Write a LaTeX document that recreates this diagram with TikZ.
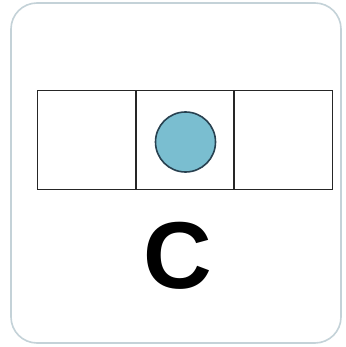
\documentclass[tikz,border=0pt]{standalone}
\usepackage{fontspec}
\setmainfont{Liberation Sans}
\definecolor{frame}{RGB}{196,210,216}
\definecolor{dotfill}{RGB}{122,190,208}
\definecolor{dotline}{RGB}{40,65,80}
\tikzset{
  cell/.style={draw=black!85, line width=1.8pt, minimum width=98pt, minimum height=99pt, inner sep=0pt, outer sep=0pt},
}
\begin{document}
\begin{tikzpicture}[x=1pt,y=-1pt]
\useasboundingbox (0,0) rectangle (345,347);
\fill[white] (0,0) rectangle (345,347);
\draw[frame, line width=1.6pt, rounded corners=26pt] (11,3) rectangle (341,343);
\node[cell] (c1) at (86.5,140) {};
\node[cell] (c2) at (185,140) {};
\node[cell] (c3) at (283.5,140) {};
\node[circle, draw=dotline, fill=dotfill, line width=1.6pt, minimum size=60pt, inner sep=0pt] (dot) at (185.5,142) {};
\node[font=\bfseries\fontsize{95}{95}\selectfont, inner sep=0pt, anchor=base] (lab) at (178,288) {C};
\end{tikzpicture}
\end{document}
